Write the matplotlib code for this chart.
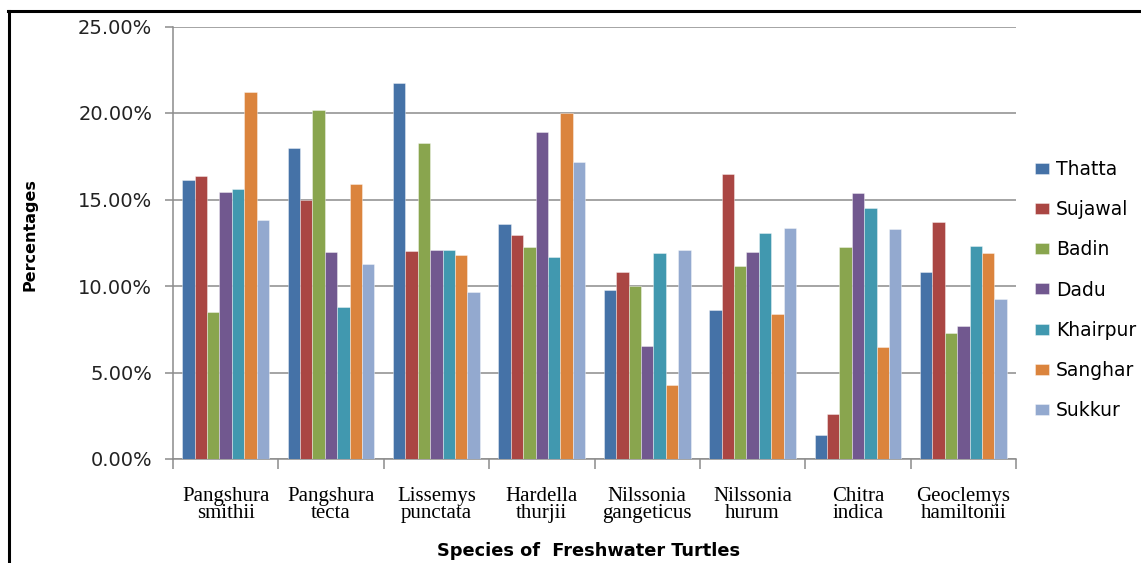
# importing numpy for bar positions
import numpy as np
# importing pyplot from matplotlib to plot the chart
import matplotlib
matplotlib.use('Agg')
import matplotlib.pyplot as plt
from matplotlib.lines import Line2D
from matplotlib.ticker import FuncFormatter

# species names (x tick labels)
species = ['Pangshura\nsmithii', 'Pangshura\ntecta', 'Lissemys\npunctata', 'Hardella\nthurjii',
           'Nilssonia\ngangeticus', 'Nilssonia\nhurum', 'Chitra\nindica', 'Geoclemys\nhamiltonii']

# districts (legend entries)
districts = ['Thatta', 'Sujawal', 'Badin', 'Dadu', 'Khairpur', 'Sanghar', 'Sukkur']

# percentage of each species per district
thatta = [16.15, 17.97, 21.71, 13.61, 9.78, 8.60, 1.39, 10.82]
sujawal = [16.38, 14.95, 12.03, 12.95, 10.82, 16.45, 2.60, 13.68]
badin = [8.47, 20.19, 18.28, 12.28, 9.99, 11.16, 12.28, 7.26]
dadu = [15.45, 11.97, 12.09, 18.90, 6.52, 11.97, 15.40, 7.68]
khairpur = [15.59, 8.78, 12.09, 11.66, 11.91, 13.07, 14.49, 12.34]
sanghar = [21.23, 15.88, 11.78, 19.98, 4.27, 8.41, 6.47, 11.91]
sukkur = [13.80, 11.30, 9.64, 17.19, 12.09, 13.38, 13.32, 9.22]

# y axis ticks
y_ticks = [0, 5, 10, 15, 20, 25]

series = [thatta, sujawal, badin, dadu, khairpur, sanghar, sukkur]
colors = ['#4572A7', '#AA4643', '#89A54E', '#71588F', '#4198AF', '#DB843D', '#93A9CF']

fig = plt.figure(figsize=(11.41, 5.63), dpi=100)
ax = fig.add_axes([173 / 1141, 104 / 563, 843 / 1141, 432.5 / 563])

# 7 bars and a gap of 1.5 bar widths per group
x = np.arange(len(species))
w = 1.0 / 8.5
for j in range(len(series)):
    ax.bar(x + (j - 3) * w, series[j], width=w, color=colors[j], label=districts[j],
           edgecolor=(1, 1, 1, 0.45), linewidth=0.6, zorder=3)

ax.set_xlim(-0.5, len(species) - 0.5)
ax.set_ylim(0, 25)

# grid lines and axis lines
grid_col = '#8c8c8c'
ax.set_yticks(y_ticks)
ax.yaxis.set_major_formatter(FuncFormatter(lambda v, p: '%.2f%%' % v))
ax.grid(axis='y', color=grid_col, linewidth=1.1, zorder=0)
for s in ['top', 'right']:
    ax.spines[s].set_visible(False)
for s in ['left', 'bottom']:
    ax.spines[s].set_color(grid_col)
    ax.spines[s].set_linewidth(1.1)

ax.tick_params(axis='y', which='major', length=6, width=1.1, color=grid_col, pad=9,
               labelsize=14, labelcolor='#222222')
ax.set_xticks(x)
ax.set_xticklabels(species, fontfamily='Liberation Serif', fontsize=15, linespacing=0.86)
ax.set_xticks(np.arange(len(species) + 1) - 0.5, minor=True)
ax.tick_params(axis='x', which='major', length=0, pad=20)
ax.tick_params(axis='x', which='minor', length=7, width=1.1, color=grid_col)

# axis titles
ax.set_ylabel('Percentages', fontsize=11.5, fontweight='bold')
ax.yaxis.set_label_coords(-0.161, 0.518)
fig.text(0.516, 1 - 551 / 563, 'Species of  Freshwater Turtles', ha='center', va='center',
         fontsize=12.8, fontweight='bold')

# legend on the right
fig.legend(loc='upper left', bbox_to_anchor=(1035 / 1141, 1 - 160 / 563), frameon=False,
           fontsize=13.5, handlelength=0.75, handleheight=0.53, handletextpad=0.37,
           labelspacing=1.13, borderpad=0, borderaxespad=0)

# black frame around the chart (top and left sides only visible)
fig.add_artist(Line2D([8 / 1141, 1.0], [1 - 11 / 563, 1 - 11 / 563], color='black', linewidth=2.2,
                      transform=fig.transFigure))
fig.add_artist(Line2D([9 / 1141, 9 / 1141], [1 - 11 / 563, 0.0], color='black', linewidth=2.2,
                      transform=fig.transFigure))

fig.savefig('out.png', dpi=100)
